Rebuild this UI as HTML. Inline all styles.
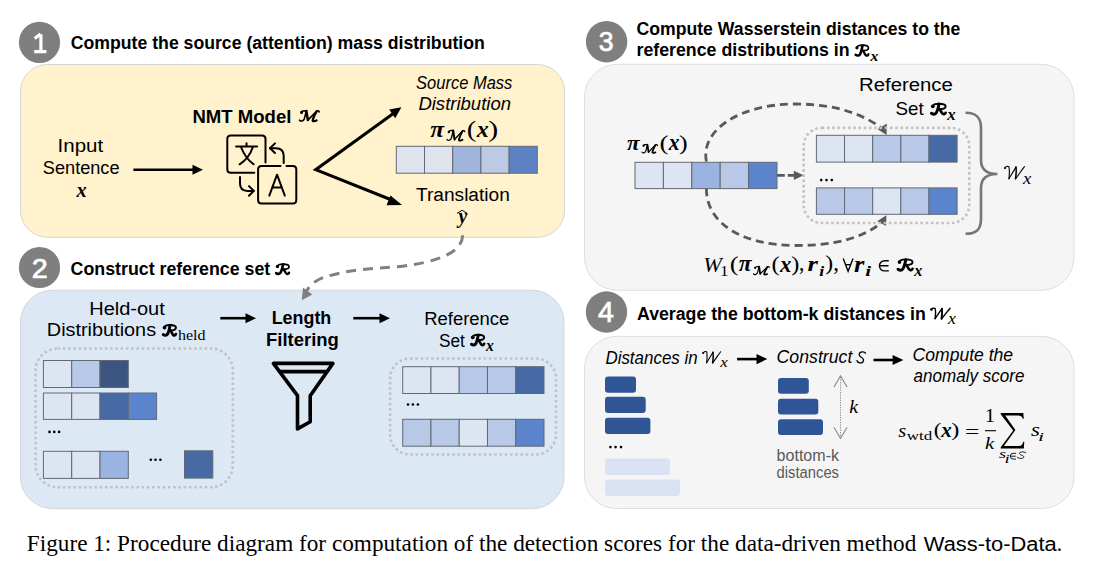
<!DOCTYPE html>
<html><head><meta charset="utf-8">
<style>
html,body{margin:0;padding:0;background:#fff;width:1095px;height:571px;overflow:hidden}
svg{display:block}
.s{font-family:"Liberation Sans",sans-serif}
.b{font-family:"Liberation Sans",sans-serif;font-weight:bold}
.m{font-family:"Liberation Serif",serif;font-style:italic;font-weight:bold}
.mi{font-family:"Liberation Serif",serif;font-style:italic}
.mr{font-family:"Liberation Serif",serif}
.it{font-family:"Liberation Sans",sans-serif;font-style:italic}
</style></head>
<body>
<svg width="1095" height="571" viewBox="0 0 1095 571">

<!-- ===== panels ===== -->
<rect x="20.5" y="64.5" width="544" height="172.8" rx="27" fill="#fff2cc" stroke="#d6d6d6" stroke-width="1"/>
<rect x="20.5" y="290.2" width="543.5" height="218.5" rx="32" fill="#dde8f5" stroke="#d2d6dc" stroke-width="1"/>
<rect x="584.5" y="64.3" width="489.5" height="226" rx="33" fill="#f5f5f5" stroke="#dedede" stroke-width="1"/>
<rect x="584.5" y="336.4" width="489.5" height="172.1" rx="32" fill="#f5f5f5" stroke="#dedede" stroke-width="1"/>
<g fill="#7f7f7f">
<circle cx="39.5" cy="42.4" r="20.6"/>
<circle cx="39.5" cy="267.5" r="20.6"/>
<circle cx="606.6" cy="41.7" r="20.7"/>
<circle cx="606.5" cy="312" r="20.7"/>
</g>
<g fill="#fff" stroke="#fff" stroke-width="0.7">
<text transform="translate(33.30,277.50) scale(1.046,1)" x="-1.38" y="0" font-size="27.50" font-family="Liberation Sans">2</text>
<text transform="translate(599.80,51.43) scale(0.970,1)" x="-1.04" y="0" font-size="27.40" font-family="Liberation Sans">3</text>
<text transform="translate(598.70,322.10) scale(0.993,1)" x="-0.66" y="0" font-size="28.78" font-family="Liberation Sans">4</text>
</g>
<path d="M40.9,34.2 V51.5 M34.2,51.6 H46.4 M40.6,34 L34.6,38.6" stroke="#fff" stroke-width="3.2" fill="none" stroke-linejoin="round"/>

<!-- ===== titles ===== -->
<g class="b" fill="#000" font-size="18">
<text x="70.8" y="49.3" textLength="414" lengthAdjust="spacingAndGlyphs">Compute the source (attention) mass distribution</text>
<text x="70.6" y="275" textLength="199.7" lengthAdjust="spacingAndGlyphs">Construct reference set</text>
<text x="636.5" y="34.5" textLength="323.8" lengthAdjust="spacingAndGlyphs">Compute Wasserstein distances to the</text>
<text x="636.5" y="56.1" textLength="213.1" lengthAdjust="spacingAndGlyphs">reference distributions in</text>
<text x="637" y="320.3" textLength="288.8" lengthAdjust="spacingAndGlyphs">Average the bottom-k distances in</text>
</g>
<g fill="#000">
<g transform="translate(275.88,264.07) scale(0.1315,0.1025)" fill="none" stroke="#000" stroke-width="1.75" stroke-linecap="round" stroke-linejoin="round"><path vector-effect="non-scaling-stroke" d="M13,24 C10,8 28,0 55,0 C85,0 100,9 100,25 C100,42 84,50 55,50"/><path vector-effect="non-scaling-stroke" stroke-width="2.62" d="M55,3 C50,30 45,65 35,85 C28,97 15,100 2,88"/><path vector-effect="non-scaling-stroke" stroke-width="2.36" d="M57,50 C66,62 72,85 80,93 C88,100 96,96 100,84"/></g><circle cx="277.45" cy="266.53" r="1.66" fill="#000"/>
<g transform="translate(855.35,45.15) scale(0.1310,0.1090)" fill="none" stroke="#000" stroke-width="1.7" stroke-linecap="round" stroke-linejoin="round"><path vector-effect="non-scaling-stroke" d="M13,24 C10,8 28,0 55,0 C85,0 100,9 100,25 C100,42 84,50 55,50"/><path vector-effect="non-scaling-stroke" stroke-width="2.55" d="M55,3 C50,30 45,65 35,85 C28,97 15,100 2,88"/><path vector-effect="non-scaling-stroke" stroke-width="2.29" d="M57,50 C66,62 72,85 80,93 C88,100 96,96 100,84"/></g><circle cx="856.92" cy="47.77" r="1.61" fill="#000"/>
<text transform="translate(870.20,60.80) scale(1.052,1)" x="0.18" y="0" font-size="14.82" font-family="Liberation Serif" font-style="italic" font-weight="bold">x</text>
<g transform="translate(930.80,307.80) scale(0.1950,0.1120)" fill="none" stroke="#000" stroke-width="1.4" stroke-linecap="round" stroke-linejoin="round"><path vector-effect="non-scaling-stroke" d="M2,16 C5,3 15,0 22,5 C26,30 24,70 22,97"/><path vector-effect="non-scaling-stroke" d="M22,97 L57,8"/><path vector-effect="non-scaling-stroke" stroke-width="1.96" d="M57,8 C60,40 57,75 55,97"/><path vector-effect="non-scaling-stroke" d="M55,97 C70,70 85,30 99,4"/></g><circle cx="931.39" cy="309.48" r="1.33" fill="#000"/>
<text transform="translate(947.90,323.70) scale(1.036,1)" x="0.21" y="0" font-size="17.21" font-family="Liberation Serif" font-style="italic">x</text>
</g>

<!-- ===== box1 ===== -->
<g class="s" fill="#000" font-size="18" text-anchor="middle">
<text x="80.4" y="152" textLength="45.6" lengthAdjust="spacingAndGlyphs">Input</text>
<text x="81.2" y="174" textLength="76.7" lengthAdjust="spacingAndGlyphs">Sentence</text>
<text x="462.9" y="201.2" textLength="93.8" lengthAdjust="spacingAndGlyphs">Translation</text>
</g>
<text transform="translate(76.30,196.50) scale(0.941,1)" x="0.26" y="0" font-size="21.57" font-family="Liberation Serif" font-style="italic" font-weight="bold">x</text>
<text class="b" x="192.4" y="122.5" font-size="17.5" textLength="99" lengthAdjust="spacingAndGlyphs">NMT Model</text>
<g transform="translate(298.90,110.60) scale(0.2030,0.1110)" fill="none" stroke="#000" stroke-width="1.6" stroke-linecap="round" stroke-linejoin="round"><path vector-effect="non-scaling-stroke" d="M3,86 C6,98 20,99 26,76 C30,56 33,25 37,4"/><path vector-effect="non-scaling-stroke" d="M13,17 C13,5 25,0 37,3"/><path vector-effect="non-scaling-stroke" stroke-width="2.40" d="M37,3 L44,86"/><path vector-effect="non-scaling-stroke" d="M44,86 L88,5"/><path vector-effect="non-scaling-stroke" d="M88,5 C95,0 100,6 100,13"/><path vector-effect="non-scaling-stroke" stroke-width="2.32" d="M88,6 C80,30 70,70 68,85 C66,98 78,99 87,88"/></g><circle cx="301.54" cy="112.38" r="1.52" fill="#000"/>
<g class="it" fill="#000" font-size="18" text-anchor="middle">
<text x="464.2" y="89" textLength="96.2" lengthAdjust="spacingAndGlyphs">Source Mass</text>
<text x="464.7" y="110.4" textLength="92.6" lengthAdjust="spacingAndGlyphs">Distribution</text>
</g>
<g fill="#000">
<text transform="translate(430.50,136.67) scale(1.091,1)" x="-0.17" y="0" font-size="23.25" font-family="Liberation Serif" font-style="italic" font-weight="bold">π</text>
<g transform="translate(446.45,130.25) scale(0.1840,0.1080)" fill="none" stroke="#000" stroke-width="1.3" stroke-linecap="round" stroke-linejoin="round"><path vector-effect="non-scaling-stroke" d="M3,86 C6,98 20,99 26,76 C30,56 33,25 37,4"/><path vector-effect="non-scaling-stroke" d="M13,17 C13,5 25,0 37,3"/><path vector-effect="non-scaling-stroke" stroke-width="1.95" d="M37,3 L44,86"/><path vector-effect="non-scaling-stroke" d="M44,86 L88,5"/><path vector-effect="non-scaling-stroke" d="M88,5 C95,0 100,6 100,13"/><path vector-effect="non-scaling-stroke" stroke-width="1.89" d="M88,6 C80,30 70,70 68,85 C66,98 78,99 87,88"/></g><circle cx="448.84" cy="131.98" r="1.23" fill="#000"/>
<text transform="translate(468.10,136.89) scale(1.257,1)" x="-0.99" y="0" font-size="22.61" font-family="Liberation Serif">(</text>
<text transform="translate(476.50,136.90) scale(1.010,1)" x="0.29" y="0" font-size="23.75" font-family="Liberation Serif" font-style="italic" font-weight="bold">x</text>
<text transform="translate(489.30,136.89) scale(1.326,1)" x="-0.73" y="0" font-size="22.61" font-family="Liberation Serif">)</text>
</g>
<g stroke="#626976" stroke-width="1">
<rect x="396.3" y="146.3" width="28.2" height="26.9" fill="#dfe3ee"/>
<rect x="424.5" y="146.3" width="28.2" height="26.9" fill="#dfe3ee"/>
<rect x="452.7" y="146.3" width="28.2" height="26.9" fill="#a1b4dc"/>
<rect x="480.9" y="146.3" width="28.2" height="26.9" fill="#bccbe3"/>
<rect x="509.1" y="146.3" width="28.2" height="26.9" fill="#5d82c4"/>
</g>
<text transform="translate(456.60,223.19) scale(0.966,1)" x="2.05" y="0" font-size="20.45" font-family="Liberation Serif" font-style="italic" font-weight="bold">y</text>
<path d="M457,213.4 L462.2,210.3 L467.1,213.4" fill="none" stroke="#000" stroke-width="1"/>
<g stroke="#000" fill="none" stroke-width="2.6">
<line x1="133.4" y1="169.8" x2="194" y2="169.8"/>
<polyline points="393,113.8 315.7,169.7 393,200.5" stroke-width="3" stroke-linejoin="miter"/>
</g>
<g fill="#000">
<path d="M203,169.8 L192.5,164.8 L192.5,174.8 z"/>
<path d="M401.4,107.3 L389.2,109.5 L395.2,118.3 z"/>
<path d="M402,205 L390.5,195.5 L386.5,205.2 z"/>
</g>
<g stroke="#000" fill="none" stroke-width="2" stroke-linecap="round" stroke-linejoin="round">
<path d="M254.3,172.7 H230.8 Q227.3,172.7 227.3,169.2 V139.1 Q227.3,135.6 230.8,135.6 H262 Q265.5,135.6 265.5,139.1 V162.5"/>
<path d="M280.5,166.1 H261.6 Q258.1,166.1 258.1,169.6 V200 Q258.1,203.5 261.6,203.5 H292.8 Q296.3,203.5 296.3,200 V169.6 Q296.3,166.1 292.8,166.1 H286.5"/>
<path d="M283.7,162.9 V156 Q283.7,148.2 276,148.2 H270"/>
<path d="M275,143.4 L270,148.2 L275,153"/>
<path d="M240,176.9 V183.5 Q240,190.9 247.5,190.9 H253.8"/>
<path d="M249,186.1 L253.8,190.9 L249,195.7"/>
<path d="M246.5,143.3 V146 M236.1,146.6 H257.1 M241,147 Q245.5,158.5 253.6,164.3 M252.9,147 Q249,158.5 239.6,164.3"/>
<path d="M269.3,195.6 L277.05,174.7 L284.8,195.6 M272.1,187.6 H282"/>
</g>

<!-- ===== box2 ===== -->
<g class="s" fill="#000" font-size="18" text-anchor="middle">
<text x="127" y="314.5" textLength="75.6" lengthAdjust="spacingAndGlyphs">Held-out</text>
<text x="466.8" y="324.7" textLength="85.2" lengthAdjust="spacingAndGlyphs">Reference</text>
</g>
<text class="s" x="46.8" y="336.4" font-size="18" textLength="109.3" lengthAdjust="spacingAndGlyphs">Distributions</text>
<g transform="translate(162.97,324.98) scale(0.1295,0.1085)" fill="none" stroke="#000" stroke-width="1.95" stroke-linecap="round" stroke-linejoin="round"><path vector-effect="non-scaling-stroke" d="M13,24 C10,8 28,0 55,0 C85,0 100,9 100,25 C100,42 84,50 55,50"/><path vector-effect="non-scaling-stroke" stroke-width="2.92" d="M55,3 C50,30 45,65 35,85 C28,97 15,100 2,88"/><path vector-effect="non-scaling-stroke" stroke-width="2.63" d="M57,50 C66,62 72,85 80,93 C88,100 96,96 100,84"/></g><circle cx="164.53" cy="327.58" r="1.85" fill="#000"/>
<text transform="translate(178.10,340.46) scale(1.093,1)" x="-0.14" y="0" font-size="14.64" font-family="Liberation Serif">held</text>
<text class="s" x="438.9" y="346.5" font-size="18" textLength="25.9" lengthAdjust="spacingAndGlyphs">Set</text>
<g transform="translate(471.18,334.78) scale(0.1295,0.1075)" fill="none" stroke="#000" stroke-width="1.95" stroke-linecap="round" stroke-linejoin="round"><path vector-effect="non-scaling-stroke" d="M13,24 C10,8 28,0 55,0 C85,0 100,9 100,25 C100,42 84,50 55,50"/><path vector-effect="non-scaling-stroke" stroke-width="2.92" d="M55,3 C50,30 45,65 35,85 C28,97 15,100 2,88"/><path vector-effect="non-scaling-stroke" stroke-width="2.63" d="M57,50 C66,62 72,85 80,93 C88,100 96,96 100,84"/></g><circle cx="472.73" cy="337.36" r="1.85" fill="#000"/>
<text transform="translate(485.90,350.60) scale(0.929,1)" x="0.20" y="0" font-size="16.78" font-family="Liberation Serif" font-style="italic" font-weight="bold">x</text>
<g class="b" fill="#000" font-size="17.5" text-anchor="middle">
<text x="301.5" y="324.2" textLength="59.6" lengthAdjust="spacingAndGlyphs">Length</text>
<text x="302.5" y="346.2" textLength="72.8" lengthAdjust="spacingAndGlyphs">Filtering</text>
</g>
<g stroke="#000" stroke-width="2.6">
<line x1="220.3" y1="318.2" x2="247" y2="318.2"/>
<line x1="353.3" y1="318.2" x2="381" y2="318.2"/>
</g>
<g fill="#000">
<path d="M256,318.2 L245.5,313.2 L245.5,323.2 z"/>
<path d="M390,318.2 L379.5,313.2 L379.5,323.2 z"/>
</g>
<g stroke="#000" fill="none" stroke-width="3.6" stroke-linejoin="round" stroke-linecap="round">
<path d="M273.4,363.4 H332.9 L310.2,395.7 V421.8 L297.5,428.9 V395.7 Z"/>
<line x1="279.7" y1="371.6" x2="326.2" y2="371.6"/>
</g>
<g fill="none" stroke="#c2c2c2" stroke-width="2.6" stroke-dasharray="2.6 2.65">
<rect x="35.6" y="348.5" width="197.2" height="138.8" rx="22"/>
<rect x="390.1" y="358.5" width="165.9" height="96" rx="20"/>
</g>
<g stroke="#626976" stroke-width="1">
<rect x="43.40" y="360.5" width="28.30" height="27" fill="#dde4f2"/>
<rect x="71.70" y="360.5" width="28.30" height="27" fill="#b8c9e7"/>
<rect x="100.00" y="360.5" width="28.30" height="27" fill="#3c5480"/>
<rect x="43.40" y="393" width="28.30" height="26.4" fill="#dde4f2"/>
<rect x="71.70" y="393" width="28.30" height="26.4" fill="#dde4f2"/>
<rect x="100.00" y="393" width="28.30" height="26.4" fill="#4769a4"/>
<rect x="128.30" y="393" width="28.30" height="26.4" fill="#5b84cc"/>
<rect x="43.40" y="451.3" width="28.30" height="27.1" fill="#dde4f2"/>
<rect x="71.70" y="451.3" width="28.30" height="27.1" fill="#dde4f2"/>
<rect x="100.00" y="451.3" width="28.30" height="27.1" fill="#9bb3e0"/>
<rect x="184.5" y="450.8" width="28.3" height="27.3" fill="#4769a4"/>
<rect x="402.70" y="366.7" width="28.26" height="26.8" fill="#dde4f2"/>
<rect x="430.96" y="366.7" width="28.26" height="26.8" fill="#dde4f2"/>
<rect x="459.22" y="366.7" width="28.26" height="26.8" fill="#b8c9e7"/>
<rect x="487.48" y="366.7" width="28.26" height="26.8" fill="#b8c9e7"/>
<rect x="515.74" y="366.7" width="28.26" height="26.8" fill="#4769a4"/>
<rect x="402.70" y="419.3" width="28.26" height="26.9" fill="#b8c9e7"/>
<rect x="430.96" y="419.3" width="28.26" height="26.9" fill="#b8c9e7"/>
<rect x="459.22" y="419.3" width="28.26" height="26.9" fill="#dde4f2"/>
<rect x="487.48" y="419.3" width="28.26" height="26.9" fill="#b8c9e7"/>
<rect x="515.74" y="419.3" width="28.26" height="26.9" fill="#5b84cc"/>
</g>
<g fill="#000"><circle cx="49.5" cy="431.9" r="1.3"/><circle cx="54.3" cy="431.9" r="1.3"/><circle cx="59.1" cy="431.9" r="1.3"/><circle cx="150.8" cy="459.8" r="1.3"/><circle cx="155.5" cy="459.8" r="1.3"/><circle cx="160.4" cy="459.8" r="1.3"/><circle cx="408" cy="404.5" r="1.3"/><circle cx="412.9" cy="404.5" r="1.3"/><circle cx="417.9" cy="404.5" r="1.3"/></g>
<path d="M462.7,235.3 C462,252 440,262 397.6,266.8 C370,268.5 345,270 322,278 C314,281.5 310,285 306.5,291" fill="none" stroke="#808080" stroke-width="3" stroke-dasharray="10 7"/>
<path d="M301.8,300.2 L303,287.6 L312.3,294.6 z" fill="#808080"/>

<!-- ===== box3 ===== -->
<g class="s" fill="#000" font-size="18">
<text x="859" y="90.6" textLength="93.8" lengthAdjust="spacingAndGlyphs">Reference</text>
<text x="895.6" y="115.4" font-size="18.5" textLength="28.2" lengthAdjust="spacingAndGlyphs">Set</text>
</g>
<g transform="translate(931.08,103.77) scale(0.1455,0.1075)" fill="none" stroke="#000" stroke-width="1.95" stroke-linecap="round" stroke-linejoin="round"><path vector-effect="non-scaling-stroke" d="M13,24 C10,8 28,0 55,0 C85,0 100,9 100,25 C100,42 84,50 55,50"/><path vector-effect="non-scaling-stroke" stroke-width="2.92" d="M55,3 C50,30 45,65 35,85 C28,97 15,100 2,88"/><path vector-effect="non-scaling-stroke" stroke-width="2.63" d="M57,50 C66,62 72,85 80,93 C88,100 96,96 100,84"/></g><circle cx="932.82" cy="106.35" r="1.85" fill="#000"/>
<text transform="translate(947.00,119.70) scale(1.043,1)" x="0.20" y="0" font-size="16.12" font-family="Liberation Serif" font-style="italic" font-weight="bold">x</text>
<g fill="#000">
<text transform="translate(627.10,149.59) scale(1.051,1)" x="-0.16" y="0" font-size="21.76" font-family="Liberation Serif" font-style="italic" font-weight="bold">π</text>
<g transform="translate(641.50,144.30) scale(0.1600,0.0910)" fill="none" stroke="#000" stroke-width="1.2" stroke-linecap="round" stroke-linejoin="round"><path vector-effect="non-scaling-stroke" d="M3,86 C6,98 20,99 26,76 C30,56 33,25 37,4"/><path vector-effect="non-scaling-stroke" d="M13,17 C13,5 25,0 37,3"/><path vector-effect="non-scaling-stroke" stroke-width="1.80" d="M37,3 L44,86"/><path vector-effect="non-scaling-stroke" d="M44,86 L88,5"/><path vector-effect="non-scaling-stroke" d="M88,5 C95,0 100,6 100,13"/><path vector-effect="non-scaling-stroke" stroke-width="1.74" d="M88,6 C80,30 70,70 68,85 C66,98 78,99 87,88"/></g><circle cx="643.58" cy="145.76" r="1.14" fill="#000"/>
<text transform="translate(660.70,149.56) scale(1.308,1)" x="-0.92" y="0" font-size="20.84" font-family="Liberation Serif">(</text>
<text transform="translate(668.40,149.80) scale(0.969,1)" x="0.27" y="0" font-size="22.22" font-family="Liberation Serif" font-style="italic" font-weight="bold">x</text>
<text transform="translate(679.90,149.56) scale(1.252,1)" x="-0.67" y="0" font-size="20.84" font-family="Liberation Serif">)</text>
</g>
<g fill="none" stroke="#595959" stroke-width="2.8" stroke-dasharray="8 5">
<path d="M706.4,161.5 C700,130 740,104 795.7,104 C835,104 862,114 881,127.5"/>
<path d="M706.4,188.3 C706,225 745,245.5 795.7,245.5 C835,245.5 862,238 880.5,223.5"/>
</g>
<line x1="777" y1="175.3" x2="794.5" y2="175.3" stroke="#595959" stroke-width="2.8" stroke-dasharray="7.8 3"/>
<g fill="#595959">
<path d="M886.6,135 L886.8,123.6 L877.6,129.2 z"/>
<path d="M886.4,215.3 L886.1,226 L877.1,221.3 z"/>
<path d="M793.8,170.7 L793.8,180 L803.6,175.3 z"/>
</g>
<g fill="none" stroke="#c2c2c2" stroke-width="2.6" stroke-dasharray="2.6 2.65">
<rect x="803.7" y="127.9" width="165.5" height="95.1" rx="18"/>
</g>
<g stroke="#626976" stroke-width="1">
<rect x="635.00" y="162.3" width="28.40" height="26.3" fill="#dde4f2"/>
<rect x="663.40" y="162.3" width="28.40" height="26.3" fill="#dde4f2"/>
<rect x="691.80" y="162.3" width="28.40" height="26.3" fill="#9bb3e0"/>
<rect x="720.20" y="162.3" width="28.40" height="26.3" fill="#b8c9e7"/>
<rect x="748.60" y="162.3" width="28.40" height="26.3" fill="#5b84cc"/>
<rect x="816.40" y="135.3" width="28.14" height="26.8" fill="#dde4f2"/>
<rect x="844.54" y="135.3" width="28.14" height="26.8" fill="#dde4f2"/>
<rect x="872.68" y="135.3" width="28.14" height="26.8" fill="#b8c9e7"/>
<rect x="900.82" y="135.3" width="28.14" height="26.8" fill="#b8c9e7"/>
<rect x="928.96" y="135.3" width="28.14" height="26.8" fill="#4769a4"/>
<rect x="816.40" y="187.9" width="28.14" height="26.4" fill="#b8c9e7"/>
<rect x="844.54" y="187.9" width="28.14" height="26.4" fill="#b8c9e7"/>
<rect x="872.68" y="187.9" width="28.14" height="26.4" fill="#dde4f2"/>
<rect x="900.82" y="187.9" width="28.14" height="26.4" fill="#b8c9e7"/>
<rect x="928.96" y="187.9" width="28.14" height="26.4" fill="#5b84cc"/>
</g>
<g fill="#000"><circle cx="821.2" cy="180.1" r="1.3"/><circle cx="826.5" cy="180.1" r="1.3"/><circle cx="831.8" cy="180.1" r="1.3"/></g>
<path d="M965.5,112.8 C976,112.8 981,117 981,128 V160 C981,169 986,174 997.4,174 C986,174 981,179 981,188 V219 C981,230 976,233.8 965.5,233.8" fill="none" stroke="#767676" stroke-width="2.6"/>
<g transform="translate(1004.45,166.05) scale(0.2020,0.1310)" fill="none" stroke="#000" stroke-width="1.1" stroke-linecap="round" stroke-linejoin="round"><path vector-effect="non-scaling-stroke" d="M2,16 C5,3 15,0 22,5 C26,30 24,70 22,97"/><path vector-effect="non-scaling-stroke" d="M22,97 L57,8"/><path vector-effect="non-scaling-stroke" stroke-width="1.54" d="M57,8 C60,40 57,75 55,97"/><path vector-effect="non-scaling-stroke" d="M55,97 C70,70 85,30 99,4"/></g><circle cx="1005.06" cy="168.02" r="1.04" fill="#000"/>
<text transform="translate(1022.80,183.90) scale(1.088,1)" x="0.21" y="0" font-size="17.21" font-family="Liberation Serif" font-style="italic">x</text>
<g fill="#000">
<text transform="translate(704.70,271.68) scale(1.066,1)" x="-1.39" y="0" font-size="21.05" font-family="Liberation Serif" font-style="italic">W</text>
<text transform="translate(721.50,275.70) scale(1.136,1)" x="-1.32" y="0" font-size="15.00" font-family="Liberation Serif">1</text>
<text transform="translate(731.00,270.76) scale(1.270,1)" x="-0.92" y="0" font-size="20.84" font-family="Liberation Serif">(</text>
<text transform="translate(738.90,271.27) scale(0.998,1)" x="-0.17" y="0" font-size="23.47" font-family="Liberation Serif" font-style="italic" font-weight="bold">π</text>
<g transform="translate(753.10,266.40) scale(0.1620,0.0870)" fill="none" stroke="#000" stroke-width="1.2" stroke-linecap="round" stroke-linejoin="round"><path vector-effect="non-scaling-stroke" d="M3,86 C6,98 20,99 26,76 C30,56 33,25 37,4"/><path vector-effect="non-scaling-stroke" d="M13,17 C13,5 25,0 37,3"/><path vector-effect="non-scaling-stroke" stroke-width="1.80" d="M37,3 L44,86"/><path vector-effect="non-scaling-stroke" d="M44,86 L88,5"/><path vector-effect="non-scaling-stroke" d="M88,5 C95,0 100,6 100,13"/><path vector-effect="non-scaling-stroke" stroke-width="1.74" d="M88,6 C80,30 70,70 68,85 C66,98 78,99 87,88"/></g><circle cx="755.21" cy="267.79" r="1.14" fill="#000"/>
<text transform="translate(772.50,270.76) scale(1.177,1)" x="-0.92" y="0" font-size="20.84" font-family="Liberation Serif">(</text>
<text transform="translate(779.80,271.50) scale(0.995,1)" x="0.28" y="0" font-size="22.88" font-family="Liberation Serif" font-style="italic" font-weight="bold">x</text>
<text transform="translate(791.90,270.76) scale(1.177,1)" x="-0.67" y="0" font-size="20.84" font-family="Liberation Serif">)</text>
<text transform="translate(799.90,270.15) scale(0.905,1)" x="-0.90" y="0" font-size="23.75" font-family="Liberation Serif">,</text>
<text transform="translate(808.00,271.40) scale(1.217,1)" x="-0.45" y="0" font-size="21.86" font-family="Liberation Serif" font-style="italic" font-weight="bold">r</text>
<text transform="translate(819.80,275.80) scale(1.195,1)" x="-0.38" y="0" font-size="14.84" font-family="Liberation Serif" font-style="italic" font-weight="bold">i</text>
<text transform="translate(825.90,270.36) scale(1.139,1)" x="-0.67" y="0" font-size="20.84" font-family="Liberation Serif">)</text>
<text transform="translate(834.00,270.15) scale(0.961,1)" x="-0.90" y="0" font-size="23.75" font-family="Liberation Serif">,</text>
<text transform="translate(854.60,271.50) scale(1.194,1)" x="-0.46" y="0" font-size="22.28" font-family="Liberation Serif" font-style="italic" font-weight="bold">r</text>
<text transform="translate(865.70,275.70) scale(1.469,1)" x="-0.36" y="0" font-size="14.27" font-family="Liberation Serif" font-style="italic" font-weight="bold">i</text>
<g transform="translate(897.68,259.38) scale(0.1485,0.1115)" fill="none" stroke="#000" stroke-width="1.95" stroke-linecap="round" stroke-linejoin="round"><path vector-effect="non-scaling-stroke" d="M13,24 C10,8 28,0 55,0 C85,0 100,9 100,25 C100,42 84,50 55,50"/><path vector-effect="non-scaling-stroke" stroke-width="2.92" d="M55,3 C50,30 45,65 35,85 C28,97 15,100 2,88"/><path vector-effect="non-scaling-stroke" stroke-width="2.63" d="M57,50 C66,62 72,85 80,93 C88,100 96,96 100,84"/></g><circle cx="899.46" cy="262.05" r="1.85" fill="#000"/>
<text transform="translate(914.00,275.70) scale(1.018,1)" x="0.19" y="0" font-size="15.90" font-family="Liberation Serif" font-style="italic" font-weight="bold">x</text>
</g>
<g fill="none" stroke="#000" stroke-width="1.4">
<path d="M843.2,258.6 L848.1,271.2 L853,258.6 M845.2,264.6 H851"/>
<path d="M888.8,260.7 H884.5 A5.1,5.1 0 0 0 884.5,270.9 H888.8 M879.5,265.8 H888.5"/>
</g>

<!-- ===== box4 ===== -->
<g class="it" fill="#000" font-size="18">
<text x="605.4" y="363.6" textLength="92.3" lengthAdjust="spacingAndGlyphs">Distances in</text>
<text x="776.6" y="363.1" textLength="75.7" lengthAdjust="spacingAndGlyphs">Construct</text>
<text x="912.6" y="360.6" textLength="100.5" lengthAdjust="spacingAndGlyphs">Compute the</text>
<text x="913.6" y="382" textLength="110.8" lengthAdjust="spacingAndGlyphs">anomaly score</text>
</g>
<g transform="translate(702.65,351.25) scale(0.1820,0.1190)" fill="none" stroke="#000" stroke-width="1.1" stroke-linecap="round" stroke-linejoin="round"><path vector-effect="non-scaling-stroke" d="M2,16 C5,3 15,0 22,5 C26,30 24,70 22,97"/><path vector-effect="non-scaling-stroke" d="M22,97 L57,8"/><path vector-effect="non-scaling-stroke" stroke-width="1.54" d="M57,8 C60,40 57,75 55,97"/><path vector-effect="non-scaling-stroke" d="M55,97 C70,70 85,30 99,4"/></g><circle cx="703.20" cy="353.04" r="1.04" fill="#000"/>
<text transform="translate(720.00,367.20) scale(1.143,1)" x="0.18" y="0" font-size="14.82" font-family="Liberation Serif" font-style="italic">x</text>
<g transform="translate(856.77,351.48) scale(0.0895,0.1155)" fill="none" stroke="#000" stroke-width="1.35" stroke-linecap="round" stroke-linejoin="round"><path vector-effect="non-scaling-stroke" d="M97,15 C85,0 50,0 35,10 C18,22 30,42 50,50 C75,60 85,80 65,94 C45,103 10,100 3,80"/></g>
<g stroke="#000" stroke-width="2.6">
<line x1="737.1" y1="359.1" x2="758" y2="359.1"/>
<line x1="873.5" y1="360" x2="894" y2="360"/>
</g>
<g fill="#000">
<path d="M767.3,359.1 L756.5,354 L756.5,364.2 z"/>
<path d="M903.4,360 L892.6,354.9 L892.6,365.1 z"/>
</g>
<g fill="#2f5597">
<rect x="605" y="376.4" width="31" height="16.4" rx="3"/>
<rect x="605" y="396.8" width="40.7" height="16.3" rx="3"/>
<rect x="605" y="417.8" width="45.4" height="16.3" rx="3"/>
<rect x="778" y="377.9" width="30.8" height="15.8" rx="3"/>
<rect x="778" y="398.7" width="40.3" height="15.8" rx="3"/>
<rect x="778" y="419.2" width="45" height="15.8" rx="3"/>
</g>
<g fill="#dae3f3">
<rect x="605" y="458.5" width="65.1" height="16.5" rx="3"/>
<rect x="605" y="479.5" width="74.9" height="16.6" rx="3"/>
</g>
<g fill="#000"><circle cx="610.4" cy="447.1" r="1.3"/><circle cx="615.6" cy="447.1" r="1.3"/><circle cx="621" cy="447.1" r="1.3"/></g>
<g fill="none" stroke="#8f8f8f" stroke-width="1.1">
<line x1="840.5" y1="377" x2="840.5" y2="437.5" stroke-dasharray="1.3 1.2" stroke-width="1"/>
<path d="M833.9,387.1 L840.5,375.9 L847.1,387.1 M833.9,427.2 L840.5,438.3 L847.1,427.2"/>
</g>
<text transform="translate(849.80,412.60) scale(1.089,1)" x="-0.52" y="0" font-size="18.16" font-family="Liberation Serif" font-style="italic">k</text>
<g class="s" fill="#595959" font-size="16">
<text x="776.6" y="460.8" textLength="62.4" lengthAdjust="spacingAndGlyphs">bottom-k</text>
<text x="776.6" y="478.1" textLength="62.4" lengthAdjust="spacingAndGlyphs">distances</text>
</g>
<g fill="#000">
<text transform="translate(898.50,436.72) scale(1.094,1)" x="-0.23" y="0" font-size="18.71" font-family="Liberation Serif" font-style="italic">s</text>
<text transform="translate(906.80,440.37) scale(1.255,1)" x="-0.01" y="0" font-size="13.50" font-family="Liberation Serif">wtd</text>
<text transform="translate(934.80,435.71) scale(1.225,1)" x="-0.82" y="0" font-size="18.75" font-family="Liberation Serif">(</text>
<text transform="translate(941.10,436.90) scale(1.021,1)" x="0.25" y="0" font-size="20.48" font-family="Liberation Serif" font-style="italic" font-weight="bold">x</text>
<text transform="translate(952.10,435.71) scale(1.308,1)" x="-0.60" y="0" font-size="18.75" font-family="Liberation Serif">)</text>
<text transform="translate(966.30,437.78) scale(1.332,1)" x="-0.96" y="0" font-size="19.20" font-family="Liberation Serif">=</text>
<text transform="translate(986.60,422.30) scale(1.141,1)" x="-1.60" y="0" font-size="18.18" font-family="Liberation Serif">1</text>
<text transform="translate(985.50,448.60) scale(1.188,1)" x="-0.50" y="0" font-size="17.44" font-family="Liberation Serif" font-style="italic">k</text>
<text transform="translate(1031.20,436.32) scale(1.231,1)" x="-0.23" y="0" font-size="18.50" font-family="Liberation Serif" font-style="italic">s</text>
<text transform="translate(1039.10,440.70) scale(1.834,1)" x="-0.66" y="0" font-size="11.93" font-family="Liberation Serif" font-style="italic">i</text>
<text transform="translate(999.20,458.47) scale(1.387,1)" x="-0.16" y="0" font-size="13.10" font-family="Liberation Serif" font-style="italic">s</text>
<text transform="translate(1005.50,462.80) scale(1.592,1)" x="-0.66" y="0" font-size="11.78" font-family="Liberation Serif" font-style="italic">i</text>
<g transform="translate(1016.95,451.65) scale(0.0910,0.0690)" fill="none" stroke="#000" stroke-width="0.9" stroke-linecap="round" stroke-linejoin="round"><path vector-effect="non-scaling-stroke" d="M97,15 C85,0 50,0 35,10 C18,22 30,42 50,50 C75,60 85,80 65,94 C45,103 10,100 3,80"/></g>
</g>
<line x1="985" y1="430.7" x2="996" y2="430.7" stroke="#000" stroke-width="1.1"/>
<path d="M1000.7,412.9 H1023.3 L1023.8,418.7 H1022.7 Q1021.9,415.4 1018,415.4 H1005.2 L1015.4,430.1 L1003.9,446 H1019 Q1022.4,446 1023.2,441.8 H1024.3 L1023.8,448.6 H1000.7 V447.3 L1013.2,430.4 L1000.7,414.3 Z" fill="#000"/>
<path d="M1016,453.3 H1013.2 A2.9,2.9 0 0 0 1013.2,459.1 H1016 M1010.3,456.2 H1015.7" fill="none" stroke="#000" stroke-width="0.9"/>

<!-- ===== caption ===== -->
<text x="26.8" y="550.5" font-family="Liberation Serif" font-size="23" fill="#000" textLength="889.5" lengthAdjust="spacingAndGlyphs">Figure 1: Procedure diagram for computation of the detection scores for the data-driven method</text>
<text x="923.8" y="550.5" font-family="Liberation Sans" font-size="20" fill="#000" textLength="133" lengthAdjust="spacingAndGlyphs">Wass-to-Data</text>
<text x="1056.5" y="550.5" font-family="Liberation Serif" font-size="23" fill="#000">.</text>

</svg>
</body></html>
